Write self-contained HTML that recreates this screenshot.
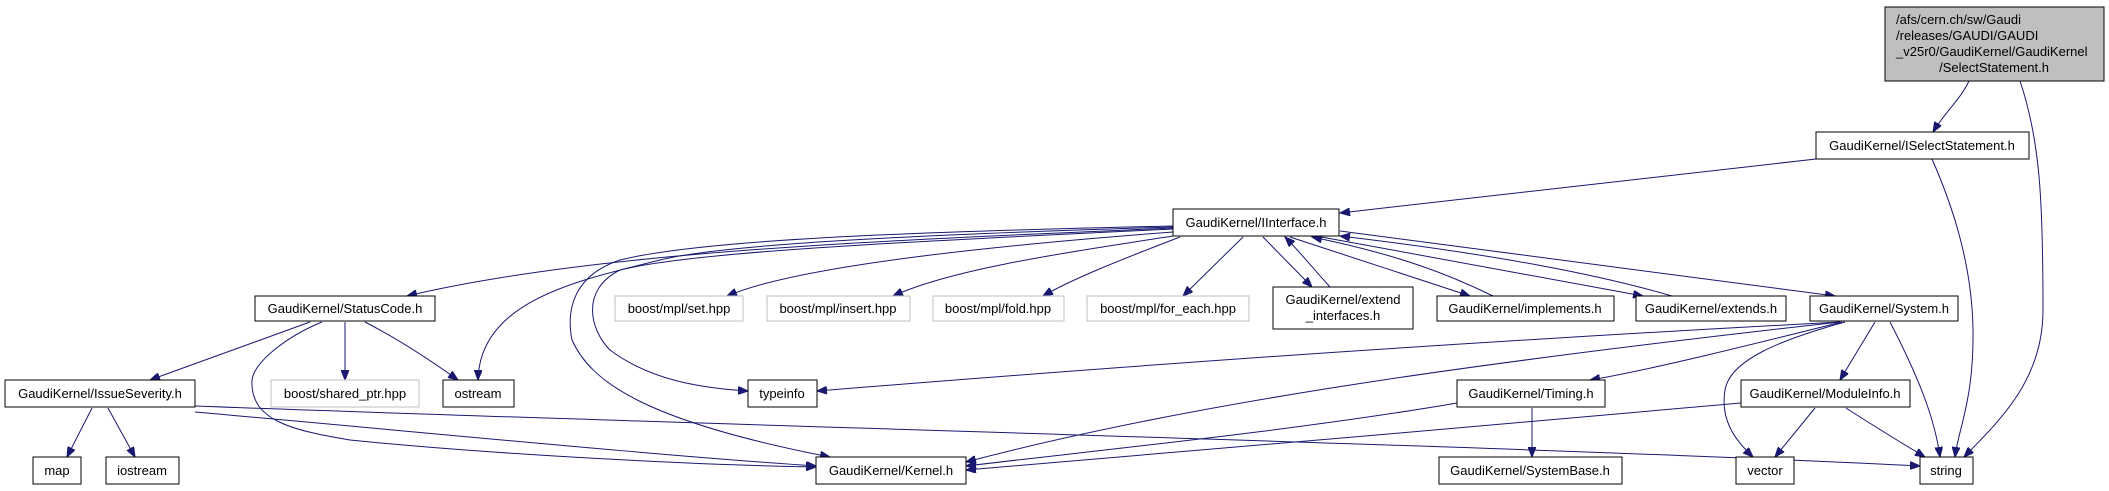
<!DOCTYPE html>
<html><head><meta charset="utf-8"><style>
html,body{margin:0;padding:0;background:#fff;width:2109px;height:491px;overflow:hidden}
svg{display:block}
text{font-family:"Liberation Sans",Arial,sans-serif;font-size:13px;fill:#000}
.n{fill:#fff;stroke:#000;stroke-width:1}
.g{fill:#fff;stroke:#bfbfbf;stroke-width:1}
.e{fill:none;stroke:#191970;stroke-width:1}
</style></head><body>
<svg width="2109" height="491" viewBox="0 0 2109 491" xmlns="http://www.w3.org/2000/svg">
<defs><marker id="a" markerWidth="11" markerHeight="8" refX="10" refY="4" orient="auto" markerUnits="userSpaceOnUse"><path d="M0,0 L10,4 L0,8 z" fill="#191970" stroke="#191970"/></marker></defs>
<g class="e" marker-end="url(#a)">
<path d="M1969,81 C1960,100 1945,112 1933,132"/>
<path d="M2020,81 C2040,140 2043,200 2043,310 C2043,380 2000,420 1964,457"/>
<path d="M1816,159 L1340,213"/>
<path d="M1932,159 C1950,200 1972,260 1973,330 C1974,400 1958,430 1955,457"/>
<path d="M1173,228 C900,240 600,250 407,296"/>
<path d="M1173,227 C900,235 720,245 660,260 C580,280 480,300 478,380"/>
<path d="M1173,226 C900,232 700,240 620,260 C560,280 570,330 572,340 C590,380 640,420 830,457"/>
<path d="M1173,229 C950,240 700,250 620,270 C580,290 590,330 610,350 C650,380 700,388 748,391"/>
<path d="M1173,232 C1000,245 800,265 727,296"/>
<path d="M1173,236 C1050,255 950,270 893,296"/>
<path d="M1180,237 C1120,260 1070,280 1043,296"/>
<path d="M1243,237 L1183,296"/>
<path d="M1263,237 L1312,287"/>
<path d="M1330,287 C1310,265 1300,252 1285,237"/>
<path d="M1290,237 L1470,296"/>
<path d="M1493,296 C1450,275 1400,255 1312,237"/>
<path d="M1316,236 L1643,296"/>
<path d="M1672,296 C1600,275 1500,255 1340,236"/>
<path d="M1340,231 L1835,296"/>
<path d="M310,322 L150,380"/>
<path d="M322,322 C290,335 255,360 252,380 C250,420 290,430 350,440 C500,455 700,465 816,467"/>
<path d="M345,322 L345,380"/>
<path d="M365,322 C400,340 430,360 458,380"/>
<path d="M92,408 L67,457"/>
<path d="M108,408 L135,457"/>
<path d="M195,412 C400,430 650,455 816,466"/>
<path d="M195,406 C700,425 1500,445 1920,466"/>
<path d="M1840,322 C1500,340 1200,360 817,391"/>
<path d="M1840,322 C1500,360 1200,400 966,462"/>
<path d="M1842,322 C1750,345 1650,370 1590,380"/>
<path d="M1845,322 C1780,340 1730,360 1725,390 C1720,420 1735,440 1753,457"/>
<path d="M1875,322 L1840,380"/>
<path d="M1890,322 C1920,380 1935,420 1940,457"/>
<path d="M1457,403 C1300,430 1100,450 966,466"/>
<path d="M1532,408 L1532,457"/>
<path d="M1741,403 C1500,425 1200,450 966,470"/>
<path d="M1815,408 L1775,457"/>
<path d="M1846,408 C1880,430 1905,445 1925,457"/>
</g>
<rect class="n" x="1885" y="7" width="219" height="74" style="fill:#bfbfbf"/>
<text x="1896" y="24">/afs/cern.ch/sw/Gaudi</text>
<text x="1896" y="40">/releases/GAUDI/GAUDI</text>
<text x="1896" y="56">_v25r0/GaudiKernel/GaudiKernel</text>
<text x="1994" y="72" text-anchor="middle">/SelectStatement.h</text>
<g>
<rect class="n" x="1816" y="132" width="213" height="27"/><text x="1922" y="150" text-anchor="middle">GaudiKernel/ISelectStatement.h</text>
<rect class="n" x="1173" y="209" width="166" height="27"/><text x="1256" y="227" text-anchor="middle">GaudiKernel/IInterface.h</text>
<rect class="n" x="255" y="296" width="180" height="25"/><text x="345" y="313" text-anchor="middle">GaudiKernel/StatusCode.h</text>
<rect class="g" x="615" y="296" width="128" height="25"/><text x="679" y="313" text-anchor="middle" style="fill:#000">boost/mpl/set.hpp</text>
<rect class="g" x="767" y="296" width="143" height="25"/><text x="838" y="313" text-anchor="middle">boost/mpl/insert.hpp</text>
<rect class="g" x="933" y="296" width="131" height="25"/><text x="998" y="313" text-anchor="middle">boost/mpl/fold.hpp</text>
<rect class="g" x="1087" y="296" width="162" height="25"/><text x="1168" y="313" text-anchor="middle">boost/mpl/for_each.hpp</text>
<rect class="n" x="1273" y="287" width="140" height="42"/><text x="1343" y="304" text-anchor="middle">GaudiKernel/extend</text><text x="1343" y="320" text-anchor="middle">_interfaces.h</text>
<rect class="n" x="1437" y="296" width="177" height="25"/><text x="1525" y="313" text-anchor="middle">GaudiKernel/implements.h</text>
<rect class="n" x="1636" y="296" width="150" height="25"/><text x="1711" y="313" text-anchor="middle">GaudiKernel/extends.h</text>
<rect class="n" x="1810" y="296" width="148" height="25"/><text x="1884" y="313" text-anchor="middle">GaudiKernel/System.h</text>
<rect class="n" x="5" y="380" width="190" height="27"/><text x="100" y="398" text-anchor="middle">GaudiKernel/IssueSeverity.h</text>
<rect class="g" x="271" y="380" width="148" height="27"/><text x="345" y="398" text-anchor="middle">boost/shared_ptr.hpp</text>
<rect class="n" x="443" y="380" width="71" height="27"/><text x="478" y="398" text-anchor="middle">ostream</text>
<rect class="n" x="748" y="380" width="69" height="27"/><text x="782" y="398" text-anchor="middle">typeinfo</text>
<rect class="n" x="1457" y="380" width="148" height="27"/><text x="1531" y="398" text-anchor="middle">GaudiKernel/Timing.h</text>
<rect class="n" x="1741" y="380" width="169" height="27"/><text x="1825" y="398" text-anchor="middle">GaudiKernel/ModuleInfo.h</text>
<rect class="n" x="33" y="457" width="48" height="27"/><text x="57" y="475" text-anchor="middle">map</text>
<rect class="n" x="106" y="457" width="73" height="27"/><text x="142" y="475" text-anchor="middle">iostream</text>
<rect class="n" x="816" y="457" width="150" height="27"/><text x="891" y="475" text-anchor="middle">GaudiKernel/Kernel.h</text>
<rect class="n" x="1439" y="457" width="183" height="27"/><text x="1530" y="475" text-anchor="middle">GaudiKernel/SystemBase.h</text>
<rect class="n" x="1736" y="457" width="58" height="27"/><text x="1765" y="475" text-anchor="middle">vector</text>
<rect class="n" x="1920" y="457" width="53" height="27"/><text x="1946" y="475" text-anchor="middle">string</text>
</g>
</svg>
</body></html>
